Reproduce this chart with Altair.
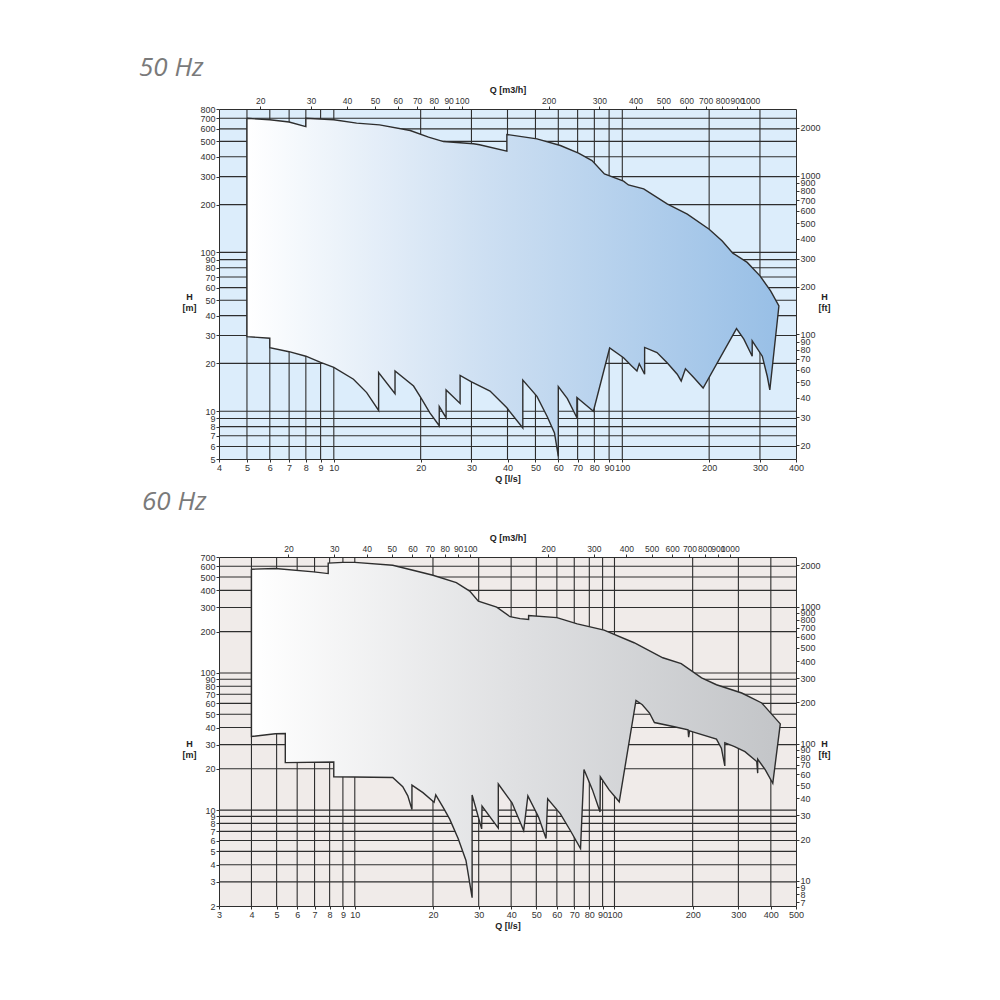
import altair as alt
import pandas as pd

# ---------------- 50 Hz envelope (Q in l/s, H in m) ----------------
top50_q = [5, 6, 7, 8, 8, 10, 12, 14.4, 18.4, 21.3, 24, 30.5, 32, 39.8, 39.8, 50.6, 61, 70.5,
           78.5, 86.7, 101, 105, 118.6, 143, 168, 200, 222, 241.6, 271, 300, 326.6, 349]
top50_h = [700, 684, 662, 620, 700, 684, 652, 636, 586, 532, 499, 483, 476, 434, 553, 519, 471, 422,
           379, 312, 281, 266, 251, 202, 174, 140, 118, 99, 86.5, 71.2, 57.3, 46]
# bottom edge, right to left
bot50_q = [324.6, 318, 305.6, 282, 282, 263.8, 248.8, 190.6, 176.8, 165.5, 160, 155, 143, 131.9,
           119.5, 119.5, 114.5, 112.4, 108, 101, 90.4, 79.4, 69.6, 69.6, 64.5, 60, 60, 58.2, 55,
           50.6, 45.2, 45.2, 39.8, 34.8, 30, 27.4, 27.4, 24.5, 24.5, 23.2, 23.2, 21.5, 20, 18.9,
           16.3, 16.3, 14.3, 14.3, 13, 11.7, 10, 9, 8, 7, 6, 6, 5]
bot50_h = [13.6, 16.6, 22.2, 27.7, 22.2, 28.4, 33.1, 14.0, 16.3, 18.5, 15.5, 17.1, 20.2, 23.4,
           25.2, 17.1, 19.9, 17.9, 19.2, 21.7, 25.0, 10.0, 12.2, 9.1, 12.0, 14.3, 5.2, 7.3, 9.2,
           12.4, 15.7, 7.85, 10.5, 13.4, 15.3, 16.8, 11.2, 13.6, 9.1, 10.7, 8.1, 9.8, 12.2, 14.4,
           17.9, 12.9, 17.5, 10.1, 13.1, 15.9, 18.9, 20.3, 22.2, 23.7, 25.1, 28.8, 29.5]

# ---------------- 60 Hz envelope ----------------
top60_q = [4, 4.94, 6.95, 7.9, 7.9, 9, 10, 14, 17.2, 20, 24.6, 27.7, 29.9, 35.2, 39.6, 43.3, 46.7,
           46.7, 60, 71.9, 91.2, 119, 153.5, 180.7, 216.5, 247, 309, 369, 435]
top60_h = [570, 577, 545, 530, 632, 640, 640, 609, 553, 515, 455, 395, 334, 302, 257, 249, 245,
           262, 253, 228, 205, 166, 129, 117, 92, 82, 71.4, 60.4, 42.5]
# bottom edge, left to right
bot60_q = [4, 4.94, 5.4, 5.4, 8.3, 8.3, 14, 15.3, 16, 16.6, 16.6, 18.3, 20.2, 20.5, 22, 23.2, 25,
           26.8, 28.3, 28.3, 30.8, 30.9, 35.7, 35.7, 40.3, 44.7, 46.4, 51, 54.5, 55.3, 61.9, 67.6,
           74, 76.3, 82.2, 88, 88.2, 95.2, 104.3, 121, 128, 136.4, 142.5, 170, 192, 193, 194.5,
           247, 258, 266, 266, 290, 318, 353, 356, 356, 380, 407]
bot60_h = [34.4, 36, 36.2, 22.2, 22.4, 17.5, 17.3, 14.8, 12.7, 10.1, 15.2, 13.4, 11.4, 12.9, 10.3,
           8.6, 6.2, 4.3, 2.3, 12.9, 7.3, 10.7, 7.4, 15.5, 11.3, 7.1, 12.7, 8.9, 6.2, 12.1, 9.4, 7.1,
           5.25, 19.8, 14.1, 9.7, 17.5, 14.1, 11.5, 63, 58.6, 51, 43.5, 40.5, 38.5, 34, 37.8,
           32.9, 28.3, 21, 31, 29, 26.7, 22.6, 18.6, 23.5, 19.8, 15.7]

# ---------------- grid lines & tick labels ----------------
hgrid50 = [700, 600, 500, 400, 300, 200, 100, 90, 80, 70, 60, 50, 40, 30, 20, 10, 9, 8, 7, 6]
vgrid50 = [5, 6, 7, 8, 9, 10, 20, 30, 40, 50, 60, 70, 80, 90, 100, 200, 300]
hgrid60 = [600, 500, 400, 300, 200, 100, 90, 80, 70, 60, 50, 40, 30, 20, 10, 9, 8, 7, 6, 5, 4, 3]
vgrid60 = [4, 5, 6, 7, 8, 9, 10, 20, 30, 40, 50, 60, 70, 80, 90, 100, 200, 300, 400]

x50_ticks = [4, 5, 6, 7, 8, 9, 10, 20, 30, 40, 50, 60, 70, 80, 90, 100, 200, 300, 400]
y50_ticks = [5, 6, 7, 8, 9, 10, 20, 30, 40, 50, 60, 70, 80, 90, 100, 200, 300, 400, 500, 600, 700, 800]
x60_ticks = [3, 4, 5, 6, 7, 8, 9, 10, 20, 30, 40, 50, 60, 70, 80, 90, 100, 200, 300, 400, 500]
y60_ticks = [2, 3, 4, 5, 6, 7, 8, 9, 10, 20, 30, 40, 50, 60, 70, 80, 90, 100, 200, 300, 400, 500, 600, 700]
m3h_ticks = [20, 30, 40, 50, 60, 70, 80, 90, 100, 200, 300, 400, 500, 600, 700, 800, 900, 1000]
ft50_ticks = [20, 30, 40, 50, 60, 70, 80, 90, 100, 200, 300, 400, 500, 600, 700, 800, 900, 1000, 2000]
ft60_ticks = [7, 8, 9, 10, 20, 30, 40, 50, 60, 70, 80, 90, 100, 200, 300, 400, 500, 600, 700, 800,
              900, 1000, 2000]

LS_TO_M3H = 3.6
M_TO_FT = 3.281
FONT = "Liberation Sans"
INK = "#2e2e2e"


def polygon(tq, th, bq, bh, bottom_reversed):
    if not bottom_reversed:
        bq, bh = bq[::-1], bh[::-1]
    q = list(tq) + list(bq) + [tq[0]]
    h = list(th) + list(bh) + [th[0]]
    return pd.DataFrame({"q": q, "h": h, "i": list(range(len(q)))})


def axis(values, title, orient, size=9, **kw):
    return alt.Axis(values=values, title=title, orient=orient, grid=False, format="d",
                    labelOverlap=False, labelBound=False, labelFlush=False, labelFont=FONT,
                    labelFontSize=size, labelColor="#333", tickColor="#333", tickSize=3,
                    domain=False, titleFont=FONT, titleFontSize=9, titleColor="#222",
                    titleFontWeight="bold", labelPadding=1, **kw)


def panel(title, qdom, hdom, w, h, poly, hgrid, vgrid, xt, yt, ft, bg, stops, title_dx, title_off):
    xs = alt.Scale(type="log", domain=qdom, nice=False)
    ys = alt.Scale(type="log", domain=hdom, nice=False)
    xa = axis(xt, "Q [l/s]", "bottom", titlePadding=2)
    ya = axis(yt, ["H", "[m]"], "left", titleAngle=0, titleAlign="center", titleBaseline="middle",
              titleX=-30, titleY=h / 2 + 12)
    hg = alt.Chart(pd.DataFrame({"q": hgrid})).mark_rule(color=INK, strokeWidth=1.1).encode(
        y=alt.Y("q:Q", scale=ys, axis=ya))
    vg = alt.Chart(pd.DataFrame({"q": vgrid})).mark_rule(color=INK, strokeWidth=1.1).encode(
        x=alt.X("q:Q", scale=xs, axis=xa))
    grad = alt.Gradient(gradient="linear", x1=0, x2=1, y1=0, y2=0,
                        stops=[alt.GradientStop(color=c, offset=o) for o, c in stops])
    area = alt.Chart(poly).mark_line(fill=grad, stroke=INK, strokeWidth=1.4, strokeJoin="miter").encode(
        x=alt.X("q:Q", scale=xs, axis=xa),
        y=alt.Y("h:Q", scale=ys, axis=ya),
        order=alt.Order("i:Q"))
    main = alt.layer(vg, hg, area)

    sec = pd.DataFrame({"q": [qdom[0] * LS_TO_M3H, qdom[1] * LS_TO_M3H],
                        "h": [hdom[0] * M_TO_FT, hdom[1] * M_TO_FT]})
    sec_layer = alt.Chart(sec).mark_point(opacity=0).encode(
        x=alt.X("q:Q", scale=alt.Scale(type="log", domain=[qdom[0] * LS_TO_M3H, qdom[1] * LS_TO_M3H], nice=False),
                axis=axis(m3h_ticks, "Q [m3/h]", "top", size=8.5, titlePadding=2)),
        y=alt.Y("h:Q", scale=alt.Scale(type="log", domain=[hdom[0] * M_TO_FT, hdom[1] * M_TO_FT], nice=False),
                axis=axis(ft, ["H", "[ft]"], "right", titleAngle=0, titleAlign="center",
                          titleBaseline="middle", titleX=28, titleY=h / 2 + 12)))
    return alt.layer(main, sec_layer).resolve_scale(x="independent", y="independent").properties(
        width=w, height=h,
        view=alt.ViewBackground(fill=bg, stroke=INK, strokeWidth=1),
        title=alt.TitleParams(title, anchor="start", frame="group", font="Open Sans", fontSize=26,
                              fontStyle="italic", fontWeight="normal", color="#7a7a7a",
                              dx=title_dx, offset=title_off))


p50 = panel("50 Hz", [4, 400], [5, 800], 577, 350,
            polygon(top50_q, top50_h, bot50_q, bot50_h, True),
            hgrid50, vgrid50, x50_ticks, y50_ticks, ft50_ticks, "#dcedfb",
            [(0, "#ffffff"), (0.45, "#cddff2"), (1, "#98bfe6")], -80, 4)
p60 = panel("60 Hz", [3, 500], [2, 700], 577, 349,
            polygon(top60_q, top60_h, bot60_q, bot60_h, False),
            hgrid60, vgrid60, x60_ticks, y60_ticks, ft60_ticks, "#f0ebe9",
            [(0, "#ffffff"), (0.5, "#dfe0e2"), (1, "#c3c5c8")], -77, 18)

chart = alt.vconcat(p50, p60, spacing=4).properties(
    padding={"left": 130, "top": 46, "right": 5, "bottom": 5})

chart.save("out.html", embed_options={"renderer": "svg", "actions": False})
